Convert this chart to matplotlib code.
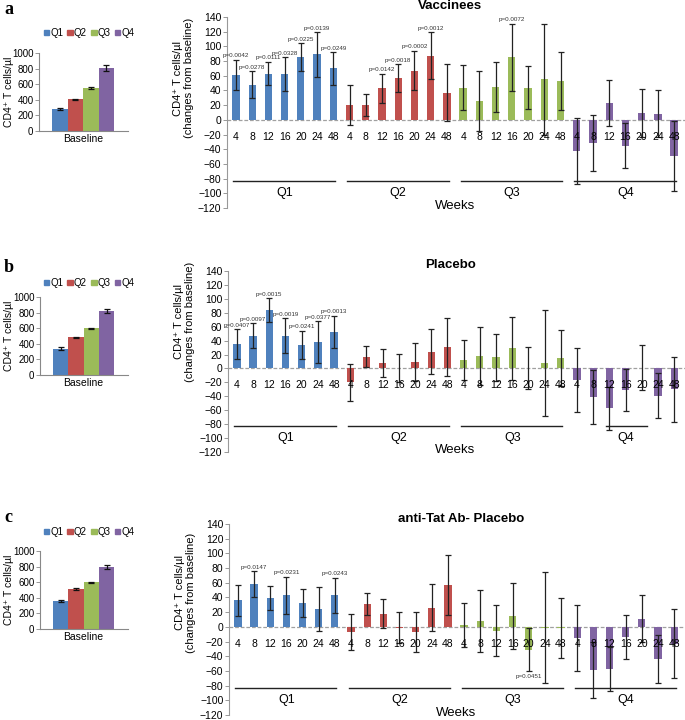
import numpy as np
import matplotlib
matplotlib.use('Agg')
import matplotlib.pyplot as plt
from matplotlib.patches import Patch

plt.rcParams['font.family'] = ['Liberation Sans', 'DejaVu Sans']

W, H = 685, 720
fig = plt.figure(figsize=(6.85, 7.2), dpi=100)

quartiles = ['Q1', 'Q2', 'Q3', 'Q4']
weeks = ['4', '8', '12', '16', '20', '24', '48']
colors = ['#4F81BD', '#C0504D', '#9BBB59', '#8064A2']

# ---- baseline values (CD4+ T cells/ul) ----
base_a = [280, 405, 550, 810]
base_a_err = [10, 8, 14, 40]
base_b = [335, 485, 600, 815]
base_b_err = [20, 8, 5, 25]
base_c = [360, 510, 600, 790]
base_c_err = [10, 12, 5, 25]

# ---- changes from baseline: Vaccinees ----
vac_q1 = [61, 48, 63, 62, 85, 89, 70]
vac_q1_err = [21, 18, 16, 23, 19, 30, 22]
vac_q2 = [20, 20, 43, 57, 67, 87, 37]
vac_q2_err = [27, 15, 20, 19, 27, 32, 39]
vac_q3 = [44, 26, 45, 85, 44, 55, 53]
vac_q3_err = [30, 41, 34, 46, 29, 75, 40]
vac_q4 = [-42, -31, 23, -35, 9, 8, -49]
vac_q4_err = [45, 38, 31, 31, 33, 32, 48]
vac_p = [(0, 0, 'p=0.0042'), (0, 1, 'p=0.0278'), (0, 2, 'p=0.0111'), (0, 3, 'p=0.0328'),
         (0, 4, 'p=0.0225'), (0, 5, 'p=0.0139'), (0, 6, 'p=0.0249'),
         (1, 2, 'p=0.0142'), (1, 3, 'p=0.0018'), (1, 4, 'p=0.0002'), (1, 5, 'p=0.0012'),
         (2, 3, 'p=0.0072')]

# ---- Placebo ----
pla_q1 = [35, 47, 84, 47, 34, 38, 53]
pla_q1_err = [21, 18, 17, 25, 20, 30, 23]
pla_q2 = [-20, 17, 8, 1, 9, 24, 31]
pla_q2_err = [27, 15, 20, 20, 27, 32, 42]
pla_q3 = [12, 18, 16, 29, 1, 8, 15]
pla_q3_err = [29, 42, 34, 45, 30, 76, 40]
pla_q4 = [-16, -41, -57, -31, 1, -39, -30]
pla_q4_err = [46, 39, 31, 30, 32, 32, 47]
pla_p = [(0, 0, 'p=0.0407'), (0, 1, 'p=0.0097'), (0, 2, 'p=0.0015'), (0, 3, 'p=0.0019'),
         (0, 4, 'p=0.0241'), (0, 5, 'p=0.0377'), (0, 6, 'p=0.0013')]

# ---- anti-Tat Ab- Placebo ----
ant_q1 = [36, 58, 39, 43, 32, 24, 43]
ant_q1_err = [21, 18, 16, 25, 19, 30, 24]
ant_q2 = [-7, 31, 18, -1, -7, 26, 57]
ant_q2_err = [25, 15, 20, 21, 27, 32, 41]
ant_q3 = [3, 8, -5, 15, -31, -1, -2]
ant_q3_err = [30, 42, 35, 45, 29, 75, 41]
ant_q4 = [-15, -59, -58, -14, 11, -44, -23]
ant_q4_err = [45, 38, 30, 30, 32, 33, 47]
ant_p = [(0, 1, 'p=0.0147'), (0, 3, 'p=0.0231'), (0, 6, 'p=0.0243'),
         (2, 4, 'p=0.0451')]


def box(l, t, r, b):
    return [l / W, 1 - b / H, (r - l) / W, (b - t) / H]


def base_panel(rect, vals, errs, legend_y):
    ax = fig.add_axes(rect)
    x = np.arange(len(vals))
    ax.bar(x, vals, width=1.0, color=colors, zorder=2,
           yerr=errs, error_kw=dict(ecolor='#111111', elinewidth=0.9,
                                    capsize=2.5, capthick=0.9))
    ax.set_xlim(-1.34, 4.4)
    ax.set_ylim(0, 1000)
    ax.set_yticks(np.arange(0, 1001, 200))
    ax.set_xticks([1.5])
    ax.set_xticklabels(['Baseline'], fontsize=7.5)
    ax.tick_params(axis='x', length=0, pad=2)
    ax.tick_params(axis='y', labelsize=7, length=3, width=0.6, pad=1,
                   color='#888888')
    for s in ['top', 'right']:
        ax.spines[s].set_visible(False)
    for s in ['left', 'bottom']:
        ax.spines[s].set_color('#888888')
        ax.spines[s].set_linewidth(0.8)
    ax.set_ylabel('CD4\u207a T cells/\u00b5l', fontsize=7.5)
    ax.yaxis.set_label_coords(-(rect[0] * W - 14) / (rect[2] * W), 0.5)
    handles = [Patch(color=c, label=q) for c, q in zip(colors, quartiles)]
    fig.legend(handles=handles, loc='center',
               bbox_to_anchor=(89 / W, 1 - legend_y / H), ncol=4,
               fontsize=7, handlelength=0.55, handleheight=0.55,
               handletextpad=0.1, columnspacing=0.45, frameon=False,
               borderpad=0, borderaxespad=0)
    return ax


def main_panel(rect, top_px, bottom_px, title, title_x, title_px,
               means, errs, pvals, ylab_y, short_q4=None):
    ax = fig.add_axes(rect)
    vals = np.concatenate(means)
    e = np.concatenate(errs)
    x = np.arange(len(vals))
    cols = np.repeat(colors, len(weeks))
    ax.bar(x, vals, width=0.45, color=cols, zorder=2)
    ax.errorbar(x, vals, yerr=e, fmt='none', ecolor='#222222',
                elinewidth=0.9, capsize=2, capthick=0.9, zorder=3)
    ax.axhline(0, color='#a0a0a0', lw=0.9, ls=(0, (3, 1.5)), zorder=1)
    ax.set_xlim(-0.55, 27.67)
    ax.set_ylim(-120, 140)
    ax.set_yticks(np.arange(-120, 141, 20))
    ax.set_xticks([])
    ax.tick_params(axis='y', labelsize=7.5, length=3, width=0.6, pad=1,
                   color='#888888')
    for s in ['top', 'right', 'bottom']:
        ax.spines[s].set_visible(False)
    ax.spines['left'].set_color('#999999')
    ax.spines['left'].set_linewidth(0.8)
    # week labels
    for i in x:
        ax.text(i, -24, weeks[i % len(weeks)], ha='center', va='center',
                fontsize=7.5, zorder=4)
    # group lines and labels
    n = len(weeks)
    for g, q in enumerate(quartiles):
        if g == 3 and short_q4 is not None:
            ax.plot(short_q4, [-83, -83], color='#222222', lw=1.0)
        else:
            ax.plot([g * n - 0.15, g * n + n - 0.9], [-83, -83],
                    color='#222222', lw=1.0)
        ax.text(g * n + 3, -100, q, ha='center', va='center', fontsize=9)
    ax.text(13.5, -117, 'Weeks', ha='center', va='center', fontsize=9.5)
    # p values
    for g, w, txt in pvals:
        i = g * n + w
        m, er = vals[i], e[i]
        if m < 0:
            ax.text(i, m - er - 4, txt, ha='center', va='top',
                    fontsize=4.5, color='#333333')
        else:
            ax.text(i, m + er + 2, txt, ha='center', va='bottom',
                    fontsize=4.5, color='#333333')
    hpx = bottom_px - top_px
    ax.text(title_x, 1 + (top_px - title_px) / hpx, title,
            transform=ax.transAxes, ha='center', va='center',
            fontsize=9.5, fontweight='bold')
    ax.text(-0.095, ylab_y,
            'CD4\u207a T cells/\u00b5l\n(changes from baseline)',
            transform=ax.transAxes, rotation=90, ha='center', va='center',
            fontsize=8, linespacing=1.15)
    return ax


# panel a
base_panel(box(39, 53, 128, 131), base_a, base_a_err, 33)
main_panel(box(227, 17, 685, 208), 17, 208, 'Vaccinees', 0.487, 6,
           [vac_q1, vac_q2, vac_q3, vac_q4],
           [vac_q1_err, vac_q2_err, vac_q3_err, vac_q4_err], vac_p, 0.68)

# panel b
base_panel(box(40, 297, 128, 375), base_b, base_b_err, 283)
main_panel(box(228, 271, 685, 452), 271, 452, 'Placebo', 0.487, 265,
           [pla_q1, pla_q2, pla_q3, pla_q4],
           [pla_q1_err, pla_q2_err, pla_q3_err, pla_q4_err], pla_p, 0.72,
           short_q4=[22.8, 25.3])

# panel c
base_panel(box(40, 551, 128, 629), base_c, base_c_err, 532)
main_panel(box(229, 524, 685, 715), 524, 715, 'anti-Tat Ab- Placebo', 0.51,
           519, [ant_q1, ant_q2, ant_q3, ant_q4],
           [ant_q1_err, ant_q2_err, ant_q3_err, ant_q4_err], ant_p, 0.64)

for letter, ypx in [('a', 10), ('b', 267), ('c', 517)]:
    fig.text(4 / W, 1 - ypx / H, letter, fontfamily='Liberation Serif',
             fontweight='bold', fontsize=13, va='center', ha='left')

fig.savefig('out.png', dpi=100)
